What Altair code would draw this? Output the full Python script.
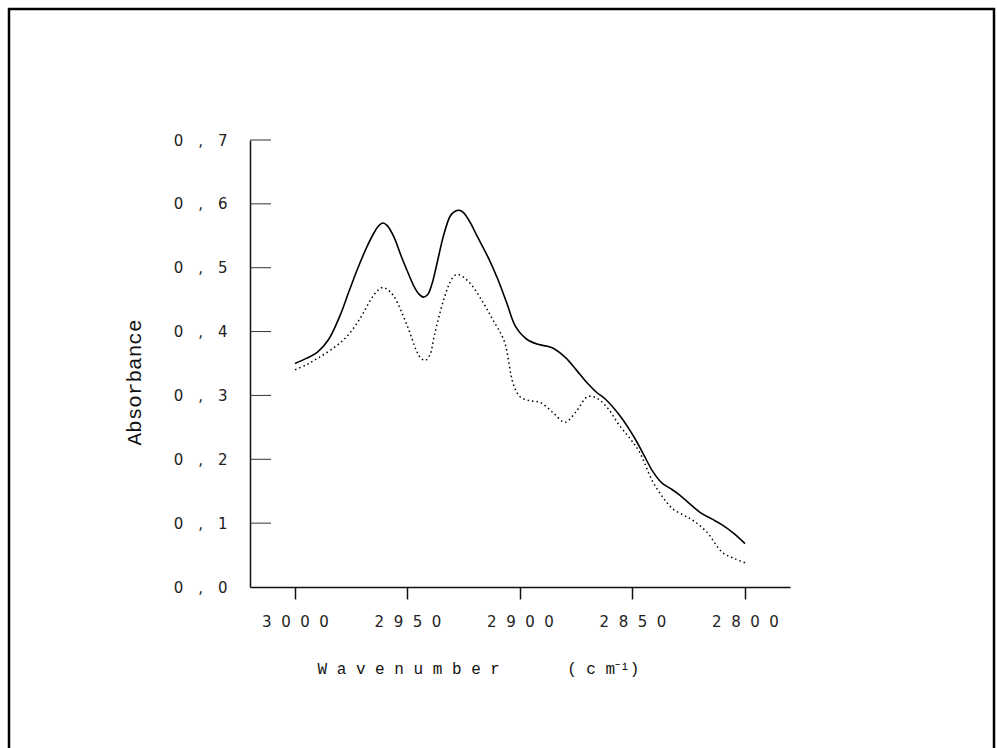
import altair as alt
import pandas as pd

# Solid spectrum
wn_solid = [3000, 2995, 2990, 2985, 2980, 2976, 2972, 2968, 2965, 2963, 2961, 2959, 2956, 2953,
            2950, 2947, 2945, 2943, 2941, 2939, 2937, 2934, 2931, 2929, 2927, 2925, 2922, 2919,
            2914, 2910, 2906, 2902, 2897, 2892, 2886, 2880, 2875, 2871, 2866, 2862, 2856, 2849,
            2845, 2841, 2837, 2833, 2829, 2820, 2815, 2810, 2805, 2800]
abs_solid = [0.350, 0.358, 0.368, 0.388, 0.425, 0.463, 0.500, 0.533, 0.554, 0.565, 0.570, 0.566,
             0.548, 0.520, 0.494, 0.470, 0.459, 0.454, 0.458, 0.476, 0.505, 0.550, 0.581, 0.588,
             0.590, 0.586, 0.570, 0.549, 0.515, 0.483, 0.446, 0.408, 0.388, 0.380, 0.375, 0.360,
             0.340, 0.323, 0.305, 0.294, 0.270, 0.233, 0.207, 0.181, 0.163, 0.154, 0.144, 0.117,
             0.107, 0.097, 0.084, 0.068]

# Dotted spectrum
wn_dot = [3000, 2995, 2990, 2983, 2977, 2971, 2966, 2963, 2961, 2959, 2956, 2950, 2946, 2944,
          2942, 2940, 2938, 2934, 2931, 2929, 2927, 2922, 2916, 2912, 2907, 2903, 2900, 2896,
          2891, 2885, 2880, 2875, 2870, 2866, 2861, 2856, 2851, 2847, 2841, 2836, 2832, 2827,
          2823, 2817, 2810, 2805, 2800]
abs_dot = [0.340, 0.348, 0.358, 0.374, 0.392, 0.421, 0.452, 0.465, 0.469, 0.466, 0.455, 0.408,
           0.370, 0.358, 0.355, 0.364, 0.395, 0.449, 0.478, 0.488, 0.489, 0.475, 0.443, 0.418,
           0.385, 0.318, 0.298, 0.292, 0.289, 0.272, 0.258, 0.275, 0.298, 0.296, 0.280, 0.254,
           0.232, 0.212, 0.165, 0.138, 0.122, 0.112, 0.104, 0.086, 0.054, 0.045, 0.038]

x_ticks = [3000, 2950, 2900, 2850, 2800]
y_ticks = [0.1, 0.2, 0.3, 0.4, 0.5, 0.6, 0.7]

df_solid = pd.DataFrame({"wn": wn_solid, "a": abs_solid})
df_dot = pd.DataFrame({"wn": wn_dot, "a": abs_dot})
df_yt = pd.DataFrame({"a": y_ticks})

W, H = 540, 447
PL, PT = 250, 140

xscale = alt.Scale(domain=[2780, 3020], reverse=True, nice=False, zero=False)
yscale = alt.Scale(domain=[0, 0.7], nice=False)

NB = "\u00a0"
x_title = "W a v e n u m b e r" + NB * 7 + "( c m\u207b\u00b9)"

x_axis = alt.Axis(
    values=x_ticks,
    labelExpr="join(split(format(datum.value, 'd'), ''), '\u2007') + '\u2007'",
    labelFont="DejaVu Sans", labelFontSize=15, labelColor="#222",
    labelPadding=15,
    tickSize=12, tickColor="#111", tickWidth=1.5,
    domainColor="#111", domainWidth=1.5,
    grid=False,
    title=x_title,
    titleFont="Liberation Mono", titleFontSize=16, titleFontWeight="normal",
    titleColor="#111", titleX=67, titleY=81, titleAlign="left", titleBaseline="middle",
    titleAnchor="start",
)

y_axis = alt.Axis(
    values=[0, 0.1, 0.2, 0.3, 0.4, 0.5, 0.6, 0.7],
    labelExpr="join(split(replace(format(datum.value, '.1f'), '.', ','), ''), '\u2003')",
    labelFont="DejaVu Sans", labelFontSize=15, labelColor="#222",
    labelPadding=23, ticks=False,
    domainColor="#111", domainWidth=1.5,
    grid=False,
    title="Absorbance",
    titleFont="Liberation Mono", titleFontSize=21, titleFontWeight="normal",
    titleColor="#111", titleX=-116, titleY=242, titleAngle=270,
    titleAlign="center", titleBaseline="middle", titleAnchor="start",
)

solid = alt.Chart(df_solid).mark_line(
    color="black", strokeWidth=1.6, interpolate="catmull-rom"
).encode(
    x=alt.X("wn:Q", scale=xscale, axis=x_axis),
    y=alt.Y("a:Q", scale=yscale, axis=y_axis),
    order="wn:Q",
)

dotted = alt.Chart(df_dot).mark_line(
    color="black", strokeWidth=1.5, strokeDash=[1.5, 3], interpolate="catmull-rom"
).encode(
    x=alt.X("wn:Q", scale=xscale),
    y=alt.Y("a:Q", scale=yscale),
    order="wn:Q",
)

yticks = alt.Chart(df_yt).mark_rule(color="#333", strokeWidth=1).encode(
    y=alt.Y("a:Q", scale=yscale),
    x=alt.value(0),
    x2=alt.value(21),
)

frame = alt.Chart(pd.DataFrame({"k": [0]})).mark_rect(
    fillOpacity=0, stroke="black", strokeWidth=2.5
).encode(
    x=alt.value(9 - PL), x2=alt.value(994 - PL),
    y=alt.value(9 - PT), y2=alt.value(770 - PT),
)

chart = alt.layer(frame, yticks, dotted, solid).properties(
    width=W, height=H,
    autosize=alt.AutoSizeParams(type="none"),
    padding={"left": PL, "top": PT, "right": 997 - PL - W, "bottom": 748 - PT - H},
    background="white",
).configure_view(stroke=None)

chart.save("out.html", embed_options={"renderer": "svg", "actions": False})
